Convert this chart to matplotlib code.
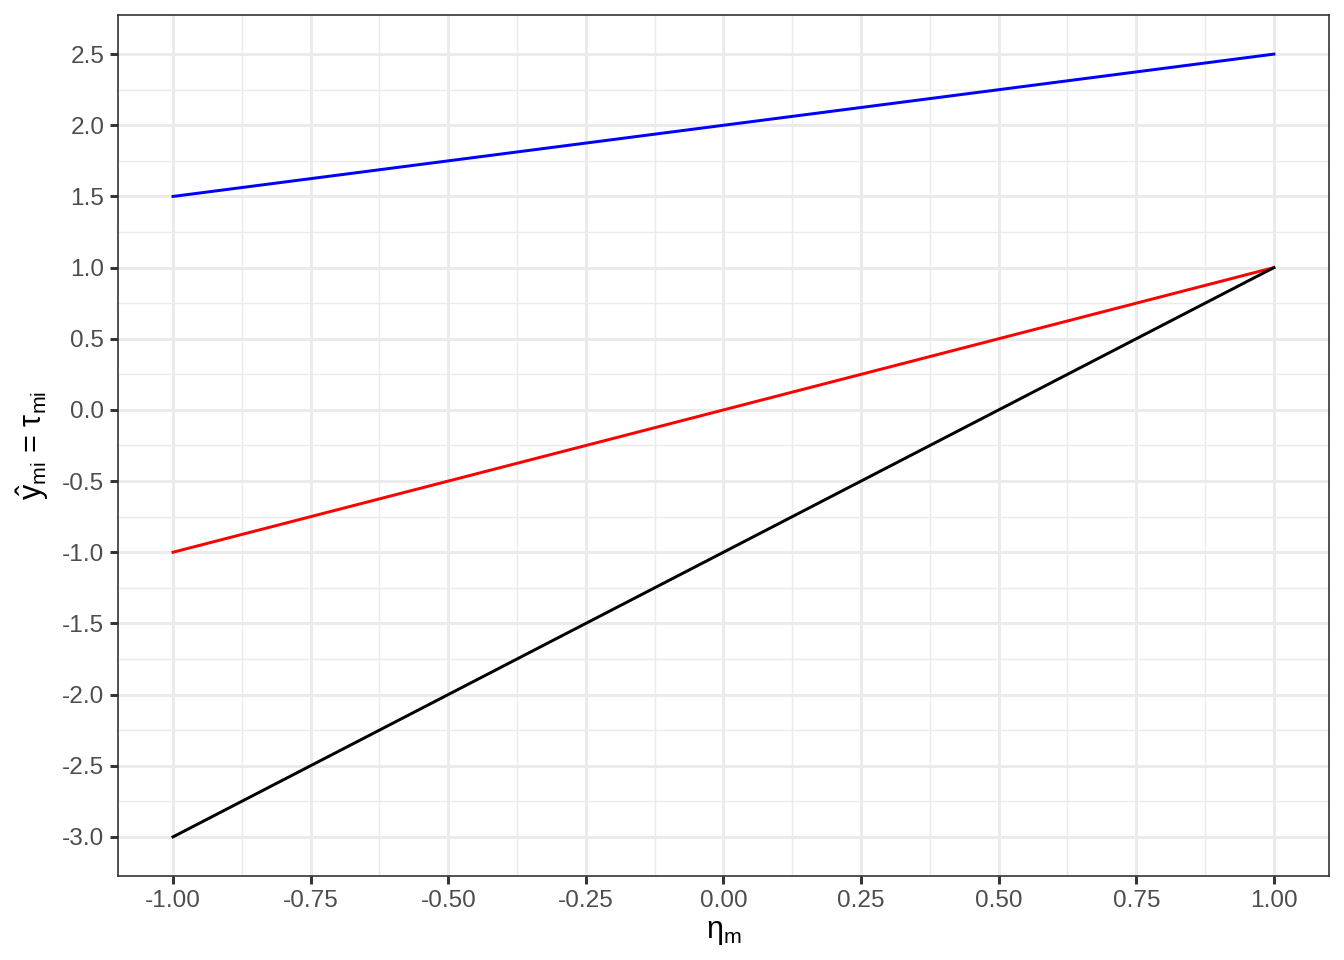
import matplotlib
matplotlib.use("Agg")
import matplotlib.pyplot as plt
import numpy as np

plt.rcParams['font.family'] = ['Liberation Sans', 'DejaVu Sans']
plt.rcParams['mathtext.fontset'] = 'custom'
plt.rcParams['mathtext.rm'] = 'Liberation Sans'
plt.rcParams['mathtext.it'] = 'Liberation Sans'
plt.rcParams['mathtext.sf'] = 'Liberation Sans'

# endpoints of the three lines
eta = [-1.0, 1.0]
blue_y = [1.5, 2.5]
red_y = [-1.0, 1.0]
black_y = [-3.0, 1.0]

x_ticks = [-1.0, -0.75, -0.5, -0.25, 0.0, 0.25, 0.5, 0.75, 1.0]
y_ticks = [-3.0, -2.5, -2.0, -1.5, -1.0, -0.5, 0.0, 0.5, 1.0, 1.5, 2.0, 2.5]

fig = plt.figure(figsize=(6.72, 4.8), dpi=200)
ax = fig.add_axes([0.0878, 0.0875, 0.9888 - 0.0878, 0.9844 - 0.0875])

ax.plot(eta, blue_y, color="#0000FF", linewidth=1.07, zorder=3)
ax.plot(eta, red_y, color="#FF0000", linewidth=1.07, zorder=3)
ax.plot(eta, black_y, color="black", linewidth=1.07, zorder=3)

ax.set_xlim(-1.1, 1.1)
ax.set_ylim(-3.275, 2.775)
ax.set_xticks(x_ticks)
ax.set_xticklabels([f"{v:.2f}" for v in x_ticks])
ax.set_yticks(y_ticks)
ax.set_yticklabels([f"{v:.1f}" for v in y_ticks])
ax.set_xticks(np.array(x_ticks[:-1]) + 0.125, minor=True)
ax.set_yticks(np.array(y_ticks[:-1]) + 0.25, minor=True)

ax.grid(which="major", color="#EBEBEB", linewidth=1.07)
ax.grid(which="minor", color="#EBEBEB", linewidth=0.53)
ax.set_axisbelow(True)

ax.tick_params(which="major", length=2.75, width=1.07, color="#333333",
               labelsize=8.8, labelcolor="#4D4D4D", pad=2.2)
ax.tick_params(which="minor", length=0)
for s in ax.spines.values():
    s.set_color("#333333")
    s.set_linewidth(0.6)

ax.set_xlabel(r"η$_{\mathrm{m}}$", fontsize=11, labelpad=2)
ax.set_ylabel(r"$\hat{y}_{\mathrm{mi}}$ = τ$_{\mathrm{mi}}$", fontsize=11, labelpad=4)

fig.savefig("out.png", dpi=200)
